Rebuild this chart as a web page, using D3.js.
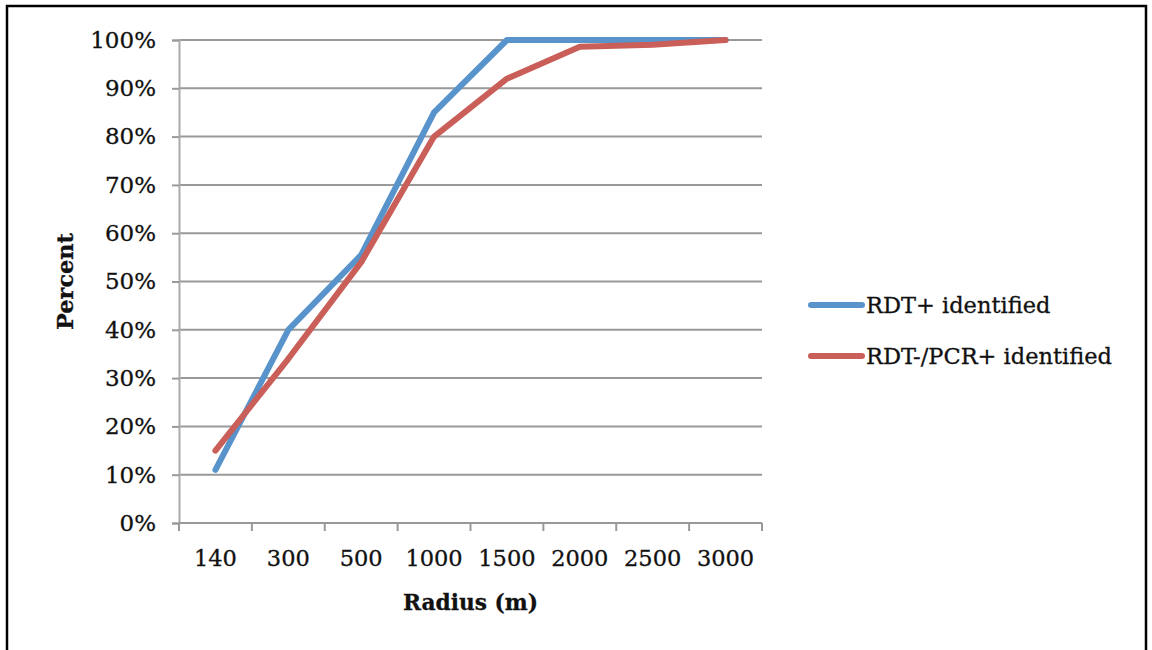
<!DOCTYPE html>
<html>
<head>
<meta charset="utf-8">
<script src="https://cdn.jsdelivr.net/npm/d3@7"></script>
<style>
  html, body { margin: 0; padding: 0; background: #fff; }
  svg text { font-family: "DejaVu Serif", "Liberation Serif", serif; fill: #111; stroke: #111; stroke-width: 0.3px; }
</style>
</head>
<body>
<svg id="chart" width="1152" height="650"></svg>
<script>
// Share of cases identified within each search radius
const radii = ["140", "300", "500", "1000", "1500", "2000", "2500", "3000"];
const rdtPositive = [0.11, 0.40, 0.555, 0.85, 1.00, 1.00, 1.00, 1.00];
const rdtNegPcrPositive = [0.15, 0.34, 0.54, 0.80, 0.92, 0.986, 0.99, 1.00];
const yTicks = [0, 0.1, 0.2, 0.3, 0.4, 0.5, 0.6, 0.7, 0.8, 0.9, 1.0];
const seriesNames = ["RDT+ identified", "RDT-/PCR+ identified"];
const seriesColors = ["#5893cb", "#c95f58"];

const svg = d3.select("#chart");

// outer frame
svg.append("rect")
  .attr("x", 7).attr("y", 6)
  .attr("width", 1139).attr("height", 660)
  .attr("fill", "none").attr("stroke", "#000").attr("stroke-width", 2.5);

const plot = { left: 179, right: 762, top: 40, bottom: 523 };

const x = d3.scaleBand().domain(radii).range([plot.left, plot.right]);
const y = d3.scaleLinear().domain([0, 1]).range([plot.bottom, plot.top]);

// horizontal gridlines
svg.append("g")
  .selectAll("line")
  .data(yTicks.filter(d => d > 0))
  .join("line")
  .attr("x1", plot.left).attr("x2", plot.right)
  .attr("y1", d => y(d)).attr("y2", d => y(d))
  .attr("stroke", "#999").attr("stroke-width", 2);

// y axis
const yAxis = svg.append("g")
  .attr("transform", `translate(${plot.left},0)`)
  .call(d3.axisLeft(y).tickValues(yTicks).tickFormat(d3.format(".0%")).tickSize(7).tickPadding(16));
yAxis.select(".domain").attr("stroke", "#aaa").attr("stroke-width", 2);
yAxis.selectAll(".tick line").attr("stroke", "#999").attr("stroke-width", 2);
yAxis.selectAll("text").attr("font-size", 23).attr("font-family", "DejaVu Serif").attr("fill", "#111");

// x axis with ticks between categories
const xAxis = svg.append("g")
  .attr("transform", `translate(0,${plot.bottom})`);
xAxis.append("line")
  .attr("x1", plot.left).attr("x2", plot.right)
  .attr("stroke", "#999").attr("stroke-width", 2);
const boundaries = radii.map(r => x(r)).concat([plot.right]);
xAxis.selectAll(".bt")
  .data(boundaries)
  .join("line")
  .attr("class", "bt")
  .attr("x1", d => d).attr("x2", d => d)
  .attr("y1", 0).attr("y2", 8)
  .attr("stroke", "#999").attr("stroke-width", 2);
xAxis.selectAll(".lbl")
  .data(radii)
  .join("text")
  .attr("class", "lbl")
  .attr("x", d => x(d) + x.bandwidth() / 2)
  .attr("y", 43)
  .attr("text-anchor", "middle")
  .attr("font-size", 22.5)
  .text(d => d);

// axis titles
svg.append("text")
  .attr("transform", `translate(73,${(plot.top + plot.bottom) / 2}) rotate(-90)`)
  .attr("text-anchor", "middle")
  .attr("font-size", 22.4).attr("font-weight", "bold")
  .text("Percent");
svg.append("text")
  .attr("x", (plot.left + plot.right) / 2)
  .attr("y", 610)
  .attr("text-anchor", "middle")
  .attr("font-size", 21.7).attr("font-weight", "bold")
  .text("Radius (m)");

// series lines
const line = d3.line()
  .x((d, i) => x(radii[i]) + x.bandwidth() / 2)
  .y(d => y(d));

const allSeries = [rdtPositive, rdtNegPcrPositive];
svg.append("g")
  .selectAll("path")
  .data(allSeries)
  .join("path")
  .attr("d", d => line(d))
  .attr("fill", "none")
  .attr("stroke", (d, i) => seriesColors[i])
  .attr("stroke-width", 6)
  .attr("stroke-linejoin", "round")
  .attr("stroke-linecap", "round");

// legend
const legend = svg.append("g");
const legendY = [305, 356];
seriesNames.forEach((name, i) => {
  legend.append("line")
    .attr("x1", 811).attr("x2", 862)
    .attr("y1", legendY[i]).attr("y2", legendY[i])
    .attr("stroke", seriesColors[i]).attr("stroke-width", 6)
    .attr("stroke-linecap", "round");
  legend.append("text")
    .attr("x", 866).attr("y", legendY[i])
    .attr("dy", "0.35em")
    .attr("font-size", 22.5)
    .text(name);
});
</script>
</body>
</html>
